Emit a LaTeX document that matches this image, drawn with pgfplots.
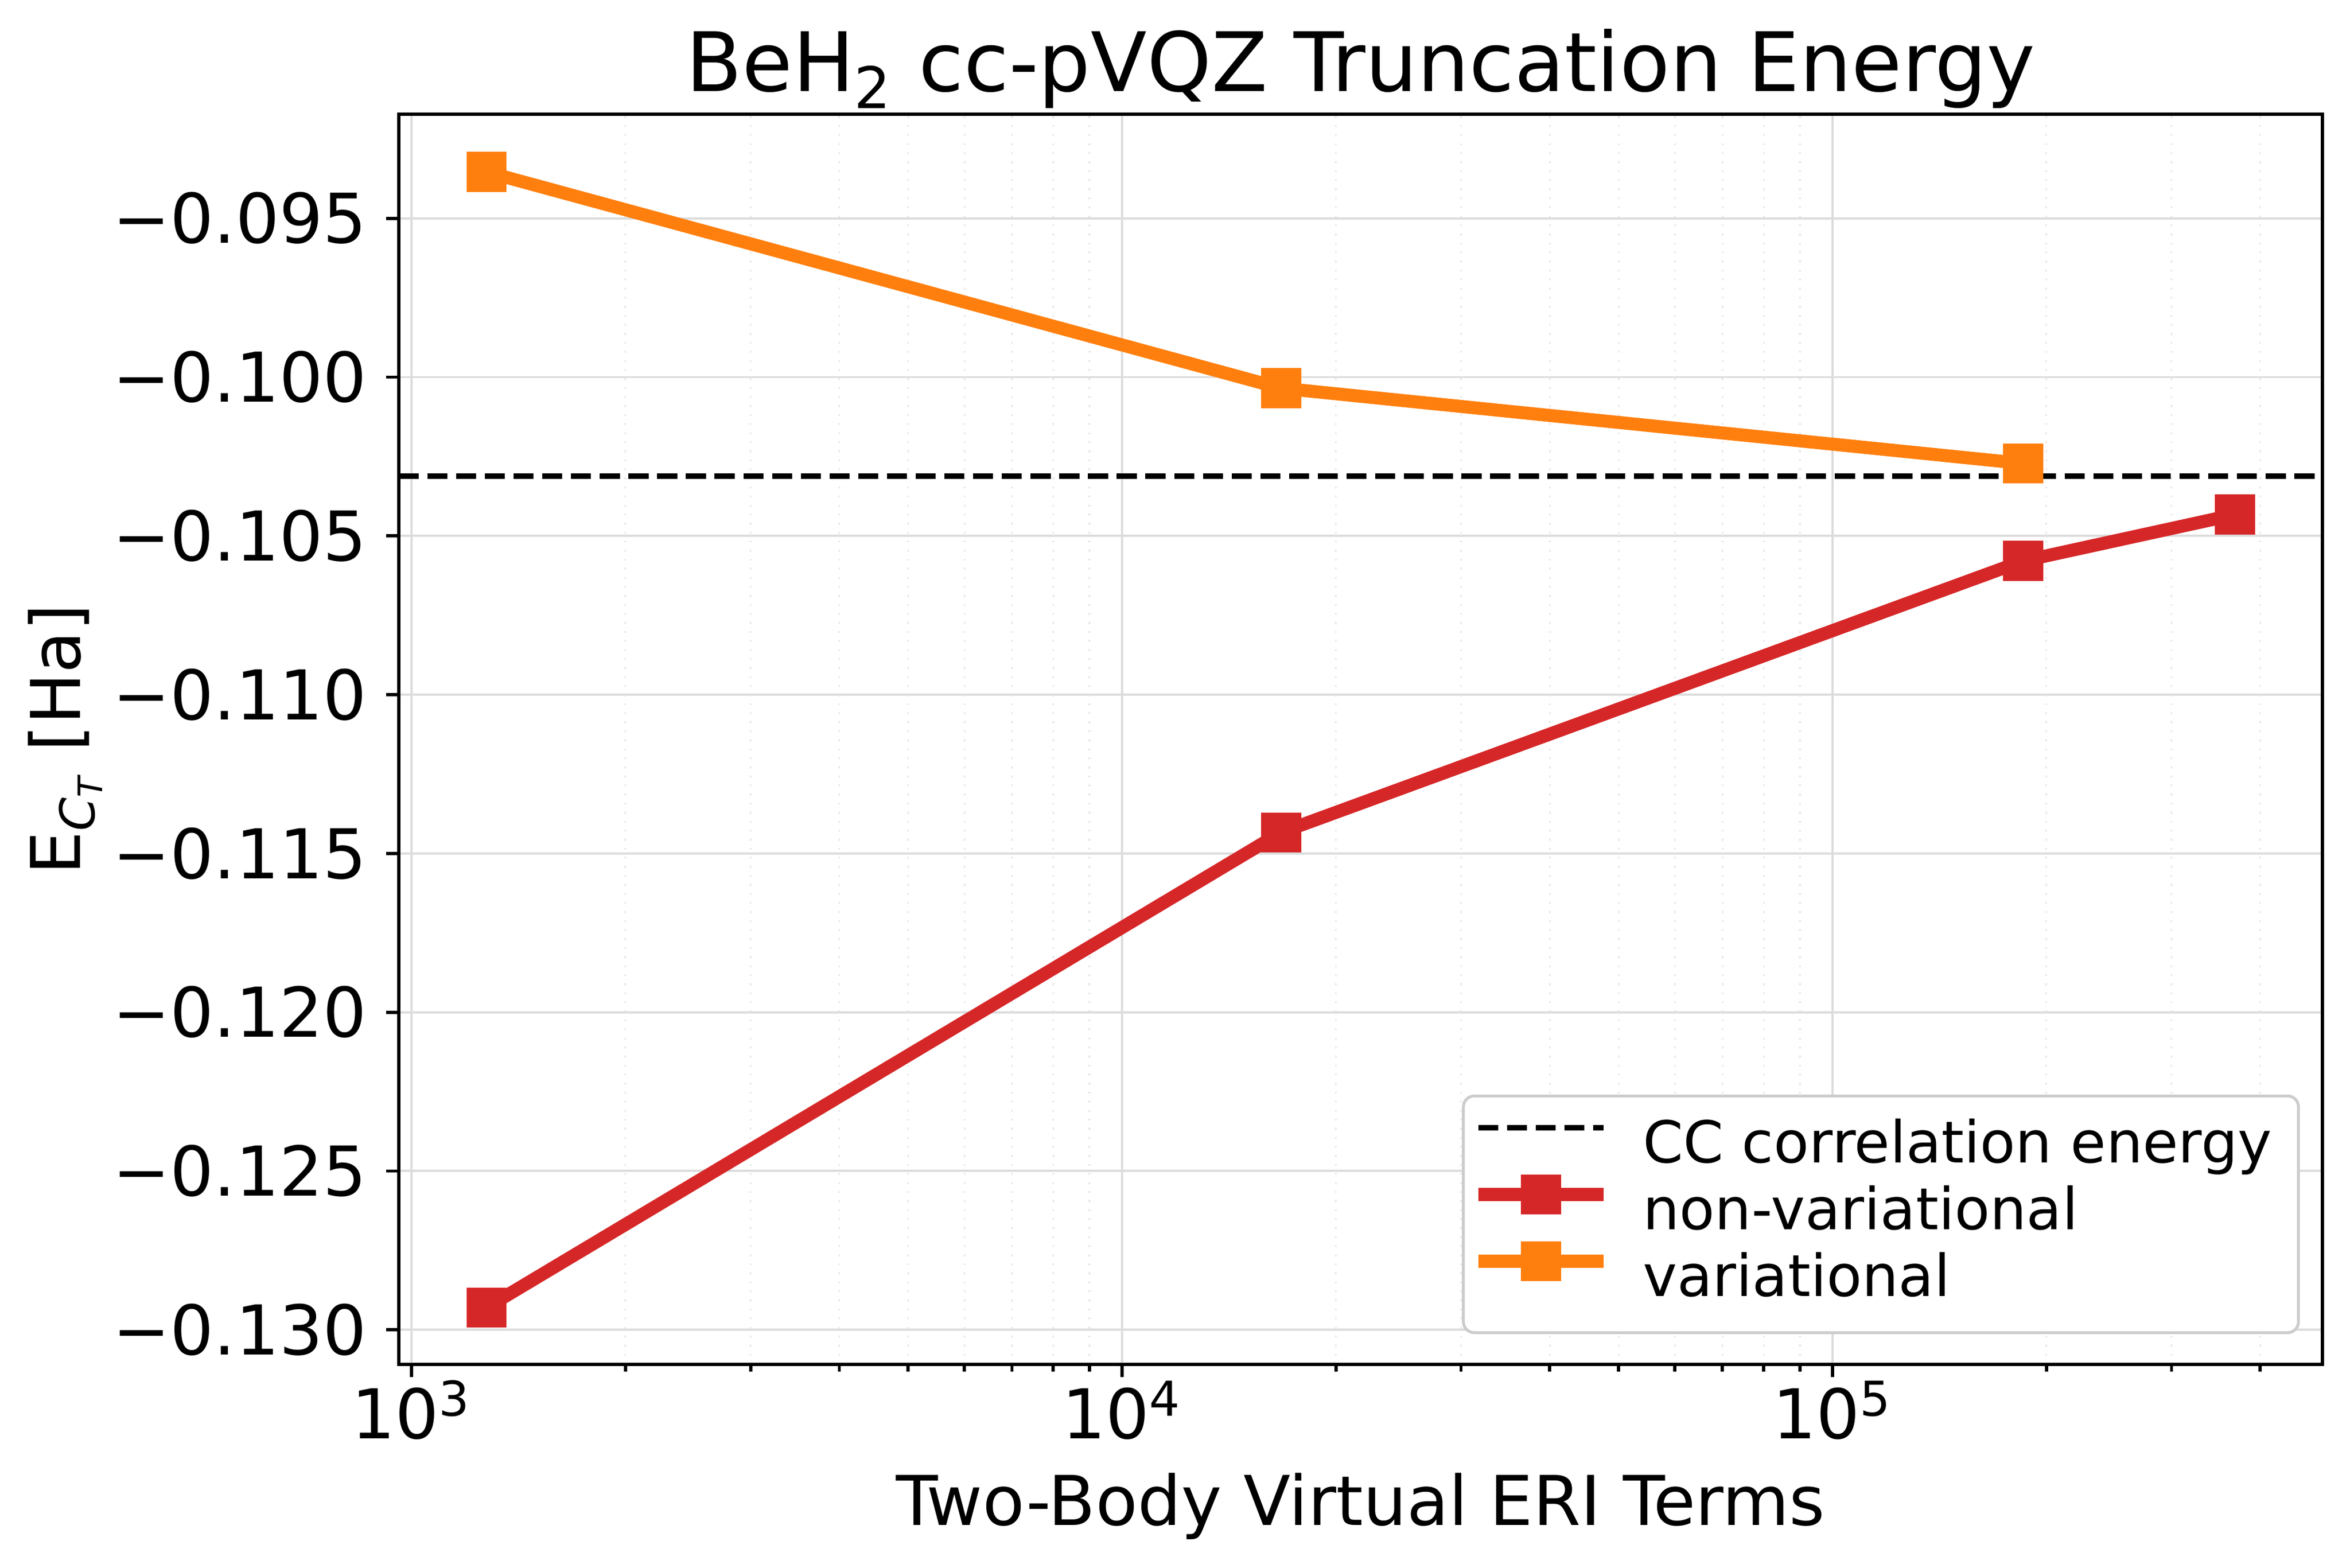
\documentclass[border=0pt]{standalone}
\usepackage{pgfplots}
\pgfplotsset{compat=1.18}
\usepackage{fontspec}
\setmainfont{DejaVu Sans}
\definecolor{tabred}{HTML}{D62728}
\definecolor{taborange}{HTML}{FF7F0E}
\definecolor{gridmaj}{HTML}{DCDCDC}
\definecolor{gridmin}{HTML}{E8E8E8}
\pgfplotsset{
  legline/.style={legend image code/.code={\draw[##1] (0pt,5.5pt) -- (34.7pt,5.5pt); \path (38.8pt,5.5pt);}},
  legmark/.style={legend image code/.code={\draw[##1, mark repeat=2, mark phase=2] plot coordinates {(0pt,5.5pt) (17.35pt,5.5pt) (34.7pt,5.5pt)}; \path (38.8pt,5.5pt);}},
}
\begin{document}
\begin{tikzpicture}
\path[use as bounding box] (-110.33pt,-56.14pt) rectangle (540.09pt,377.63pt);
\begin{axis}[
  at={(0,0)}, anchor=south west,
  scale only axis, width=532.46pt, height=346.0pt,
  xmode=log, log basis x=10,
  xmin=959, xmax=489300,
  ymin=-0.131096, ymax=-0.091725,
  xtick={1000,10000,100000},
  xticklabels={10\textsuperscript{3},10\textsuperscript{4},10\textsuperscript{5}},
  minor xtick={2000,3000,4000,5000,6000,7000,8000,9000,20000,30000,40000,50000,60000,70000,80000,90000,200000,300000,400000},
  ytick={-0.130,-0.125,-0.120,-0.115,-0.110,-0.105,-0.100,-0.095},
  yticklabels={−0.130,−0.125,−0.120,−0.115,−0.110,−0.105,−0.100,−0.095},
  xmajorgrids, ymajorgrids, xminorgrids,
  major grid style={gridmaj, line width=0.6pt},
  minor grid style={gridmin, line width=0.5pt, dotted},
  tick align=outside, xtick pos=bottom, ytick pos=left,
  major tick length=3.5pt, minor tick length=2pt,
  tick style={black, line width=0.9pt},
  axis line style={black, line width=0.9pt},
  ticklabel style={font=\fontsize{19}{22}\selectfont},
  xticklabel style={anchor=base, yshift=-17pt},
  yticklabel style={anchor=east, xshift=-1.8pt},
  title={BeH\textsubscript{2} cc-pVQZ Truncation Energy},
  title style={at={(0.5,1)}, anchor=base, yshift=0.3pt, font=\fontsize{22.7}{26}\selectfont},
  xlabel={Two-Body Virtual ERI Terms},
  xlabel style={at={(0.5,0)}, anchor=base, yshift=-44.4pt, font=\fontsize{19}{22}\selectfont},
  ylabel={E\textsubscript{\itshape C\textsubscript{T}} [Ha]},
  ylabel style={at={(0,0.5)}, anchor=base, yshift=88.1pt, font=\fontsize{19}{22}\selectfont},
  legend style={at={(0.5527,0.216)}, anchor=north west,
    draw=black!20, line width=0.8pt, rounded corners=3pt, fill=white,
    font=\fontsize{16}{19}\selectfont,
    inner xsep=2.3pt, inner ysep=5pt, row sep=0pt,
    nodes={text height=12pt, text depth=3.5pt, inner xsep=5pt, inner ysep=1.5pt}},
  legend cell align=left,
]
\addplot[black, line width=1.5pt, dash pattern=on 5.55pt off 2.4pt, legline]
  coordinates {(959,-0.10312) (489300,-0.10312)};
\addlegendentry{CC correlation energy}
\addplot[tabred, line width=3.6pt, mark=square*, mark size=3.75pt,
  mark options={solid, fill=tabred, draw=none}, legmark]
  coordinates {(1275,-0.12930) (16740,-0.11434) (185400,-0.10579) (368600,-0.10433)};
\addlegendentry{non-variational}
\addplot[taborange, line width=3.6pt, mark=square*, mark size=3.75pt,
  mark options={solid, fill=taborange, draw=none}, legmark]
  coordinates {(1275,-0.09354) (16740,-0.10035) (185400,-0.10272)};
\addlegendentry{variational}
\end{axis}
\end{tikzpicture}
\end{document}
